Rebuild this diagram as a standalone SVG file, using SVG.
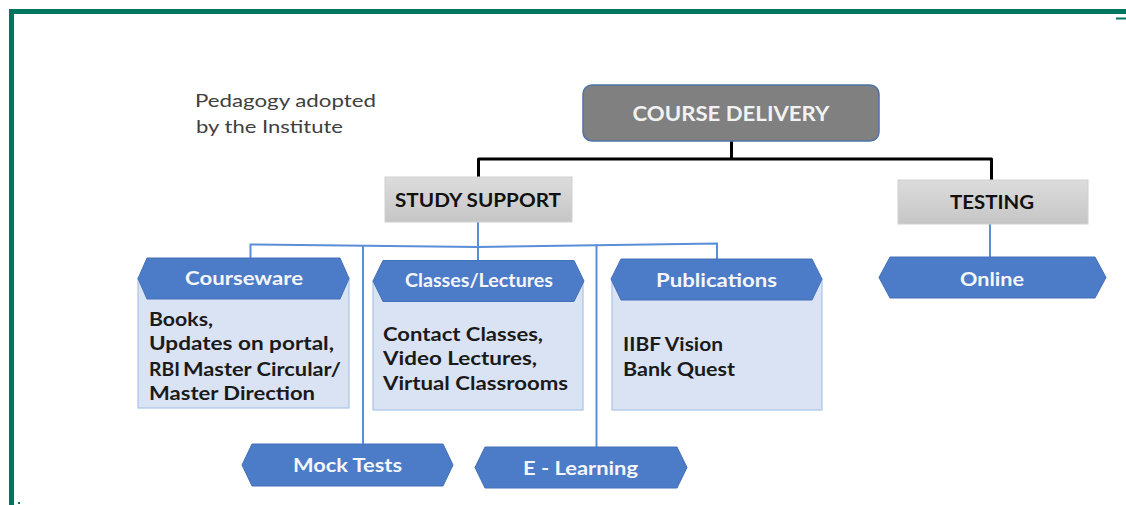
<svg xmlns="http://www.w3.org/2000/svg" width="1126" height="505" viewBox="0 0 1126 505">
  <defs>
    <linearGradient id="grayFill" x1="0" y1="0" x2="0" y2="1">
      <stop offset="0" stop-color="#DCDCDC"/>
      <stop offset="1" stop-color="#C6C6C6"/>
    </linearGradient>
    <style>
      .frame { fill: none; stroke: #00765E; stroke-width: 5; }
      .root { fill: #808080; stroke: #4F73A8; stroke-width: 1.5; }
      .branch { fill: url(#grayFill); stroke: #D0D0D0; stroke-width: 1; }
      .tag { fill: #4C7BC8; stroke: #4470B8; stroke-width: 1; }
      .card { fill: #DAE3F3; stroke: #A9C4E8; stroke-width: 1.2; }
      .wire-main { fill: none; stroke: #000000; stroke-width: 3; stroke-linejoin: round; }
      .wire { fill: none; stroke: #5B8ED8; stroke-width: 2; }
      text { font-family: Lato, "Open Sans", "Liberation Sans", sans-serif; }
      .note { font-size: 17px; fill: #404040; }
      .rootLabel { font-size: 20px; font-weight: bold; fill: #F2F2F2; text-anchor: middle; }
      .branchLabel { font-size: 18.5px; font-weight: bold; fill: #111111; text-anchor: middle; }
      .tagLabel { font-size: 18px; font-weight: bold; fill: #F4F6FA; text-anchor: middle; }
      .body { font-size: 19px; font-weight: bold; fill: #1A1A1A; }
    </style>
  </defs>

  <!-- page frame -->
  <path class="frame" d="M11.5 505 V11.5 H1126"/>
  <rect x="1116" y="17.5" width="10" height="2" fill="#00765E"/>
  <rect x="18" y="502" width="2" height="2" fill="#00765E"/>

  <!-- heading note -->
  <text class="note" x="195" y="107" textLength="181" lengthAdjust="spacingAndGlyphs">Pedagogy adopted</text>
  <text class="note" x="196" y="133" textLength="147" lengthAdjust="spacingAndGlyphs">by the Institute</text>

  <!-- connectors -->
  <g id="connectors">
    <path class="wire-main" d="M731.5 141 V159 M478.5 177 V159 H991.5 V180"/>
    <path class="wire" d="M478 222 V260"/>
    <path class="wire" d="M250.5 258 V244.5 L478 247 L717 243.5 V259"/>
    <path class="wire" d="M363 245.5 V444"/>
    <path class="wire" d="M596.5 244.5 V447"/>
    <path class="wire" d="M990 224 V257"/>
  </g>

  <!-- top level -->
  <g id="course-delivery">
    <rect class="root" x="583" y="85" width="296" height="56" rx="9"/>
    <text class="rootLabel" x="731" y="121" textLength="197" lengthAdjust="spacingAndGlyphs">COURSE DELIVERY</text>
  </g>

  <!-- branches -->
  <g id="study-support">
    <rect class="branch" x="385" y="177" width="187" height="45"/>
    <text class="branchLabel" x="478" y="206.5" textLength="166" lengthAdjust="spacingAndGlyphs">STUDY SUPPORT</text>
  </g>
  <g id="testing">
    <rect class="branch" x="898" y="180" width="190" height="44"/>
    <text class="branchLabel" x="992" y="209" textLength="84" lengthAdjust="spacingAndGlyphs">TESTING</text>
  </g>

  <!-- study support items -->
  <g id="courseware">
    <rect class="card" x="138" y="278" width="211" height="130"/>
    <polygon class="tag" points="138,278.5 147,258 340,258 349,278.5 340,299 147,299"/>
    <text class="tagLabel" x="244" y="285" textLength="118" lengthAdjust="spacingAndGlyphs">Courseware</text>
    <text class="body" x="149" y="326" textLength="64" lengthAdjust="spacingAndGlyphs">Books,</text>
    <text class="body" x="149" y="349.5" textLength="185" lengthAdjust="spacingAndGlyphs">Updates on portal,</text>
    <text class="body" x="149" y="375.5" font-size="15" textLength="31" lengthAdjust="spacingAndGlyphs">RBI</text>
    <text class="body" x="183" y="375.5" textLength="158" lengthAdjust="spacingAndGlyphs">Master Circular/</text>
    <text class="body" x="149" y="400" textLength="166" lengthAdjust="spacingAndGlyphs">Master Direction</text>
  </g>

  <g id="classes-lectures">
    <rect class="card" x="373" y="281" width="210" height="129"/>
    <polygon class="tag" points="373,281 383,260.5 574,260.5 584,281 574,301.5 383,301.5"/>
    <text class="tagLabel" x="479" y="287" font-size="16.5" textLength="148" lengthAdjust="spacingAndGlyphs">Classes/Lectures</text>
    <text class="body" x="383" y="340.5" textLength="160" lengthAdjust="spacingAndGlyphs">Contact Classes,</text>
    <text class="body" x="383" y="365" textLength="154" lengthAdjust="spacingAndGlyphs">Video Lectures,</text>
    <text class="body" x="383" y="390" textLength="185" lengthAdjust="spacingAndGlyphs">Virtual Classrooms</text>
  </g>

  <g id="publications">
    <rect class="card" x="612" y="279" width="210" height="131"/>
    <polygon class="tag" points="611,279 621,259 812,259 822,279 812,300 621,300"/>
    <text class="tagLabel" x="716.5" y="286.5" textLength="121" lengthAdjust="spacingAndGlyphs">Publications</text>
    <text class="body" x="623" y="350.5" textLength="100" lengthAdjust="spacingAndGlyphs">IIBF Vision</text>
    <text class="body" x="623" y="375.5" textLength="112" lengthAdjust="spacingAndGlyphs">Bank Quest</text>
  </g>

  <g id="mock-tests">
    <polygon class="tag" points="242,465 252,444 443,444 453,465 443,486 252,486"/>
    <text class="tagLabel" x="347.5" y="472" textLength="109" lengthAdjust="spacingAndGlyphs">Mock Tests</text>
  </g>

  <g id="e-learning">
    <polygon class="tag" points="475,467.5 485,447 677,447 687,467.5 677,488 485,488"/>
    <text class="tagLabel" x="580.5" y="474.5" textLength="115" lengthAdjust="spacingAndGlyphs">E - Learning</text>
  </g>

  <!-- testing item -->
  <g id="online">
    <polygon class="tag" points="879,277.5 890,257 1095,257 1106,277.5 1095,298 890,298"/>
    <text class="tagLabel" x="992" y="285.5" textLength="64" lengthAdjust="spacingAndGlyphs">Online</text>
  </g>
</svg>
